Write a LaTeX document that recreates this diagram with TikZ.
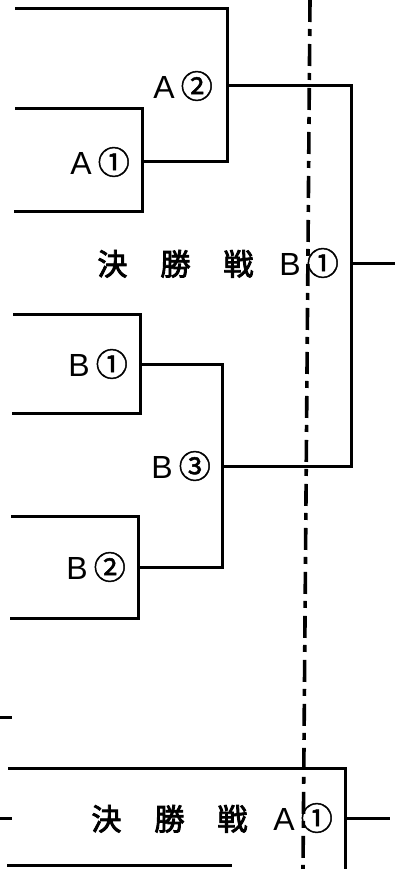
\documentclass[tikz,border=0pt]{standalone}
\usepackage{fontspec}
\newfontfamily\latin{Liberation Sans}
\newfontfamily\cjkfat{Noto Sans CJK JP}[FakeBold=3]
\newfontfamily\cjkring{Noto Sans CJK JP}[FakeBold=1.5]
\usepackage{tikz}
\tikzstyle{bracket}=[line width=3pt,line join=miter,line cap=rect]
\tikzstyle{seed}=[inner sep=0pt,font=\latin\fontsize{32}{34}\selectfont]
\tikzstyle{centre}=[line width=3.6pt,dash pattern=on 22pt off 7pt on 7pt off 8pt]
\newcommand{\kanji}[1]{{\cjkfat\fontsize{30}{32}\selectfont #1}}
\newcommand{\lbl}[2]{#1\hspace{6pt}{\cjkring #2}}
\usetikzlibrary{positioning}

\begin{document}
\begin{tikzpicture}[x=1pt,y=-1pt,node distance=12pt]
		\useasboundingbox (0,0) rectangle (396,869);

		% block A
		\coordinate (t0) at (16,9);
		\coordinate (a1t) at (16,109);
		\coordinate (a1b) at (15,211);
		\coordinate (a1j) at (142,162);
		\coordinate (a2j) at (227,86);
		% block B
		\coordinate (b1t) at (14,314);
		\coordinate (b1b) at (13,413);
		\coordinate (b1j) at (140,364);
		\coordinate (b2t) at (12,516);
		\coordinate (b2b) at (11,618);
		\coordinate (b2j) at (138,567);
		\coordinate (b3j) at (222,466);
		% finals
		\coordinate (fBj) at (351,263);
		\coordinate (fBo) at (393,263);
		\coordinate (s1a) at (0,717);
		\coordinate (s1b) at (10,717);
		\coordinate (fAt) at (9,768);
		\coordinate (fAbot) at (345,869);
		\coordinate (fAj) at (345,818);
		\coordinate (fAo) at (388,818);
		\coordinate (s2a) at (0,818);
		\coordinate (s2b) at (10,818);
		\coordinate (u0) at (8,865);
		\coordinate (u1) at (230,865);
		\coordinate (ctop) at (310,0);
		\coordinate (cbot) at (303,869);

		\node[seed, left=12pt of a1j] (lA1) {\lbl{A}{①}};
		\node[seed, left=14pt of a2j] (lA2) {\lbl{A}{②}};
		\node[seed, left=12pt of b1j] (lB1) {\lbl{B}{①}};
		\node[seed, left=12pt of b2j] (lB2) {\lbl{B}{②}};
		\node[seed, left=11pt of b3j] (lB3) {\lbl{B}{③}};
		\node[seed, left=12pt of fBj] (lfB) {\kanji{決\hspace{33pt}勝\hspace{33pt}戦}\hspace{26pt}\lbl{B}{①}};
		\node[seed, left=12pt of fAj] (lfA) {\kanji{決\hspace{33pt}勝\hspace{33pt}戦}\hspace{26pt}\lbl{A}{①}};

		\draw[bracket] (a1t) -| (a1j) |- (a1b);
		\draw[bracket] (t0) -| (a2j) |- (a1j);
		\draw[bracket] (b1t) -| (b1j) |- (b1b);
		\draw[bracket] (b2t) -| (b2j) |- (b2b);
		\draw[bracket] (b1j) -| (b3j) |- (b2j);
		\draw[bracket] (a2j) -| (fBj) |- (b3j);
		\draw[bracket] (fBj) -- (fBo);
		\draw[bracket] (s1a) -- (s1b);
		\draw[bracket] (fAt) -| (fAbot);
		\draw[bracket] (fAj) -- (fAo);
		\draw[bracket] (s2a) -- (s2b);
		\draw[bracket] (u0) -- (u1);

		\draw[centre] (ctop) -- (cbot);

	\end{tikzpicture}
\end{document}
